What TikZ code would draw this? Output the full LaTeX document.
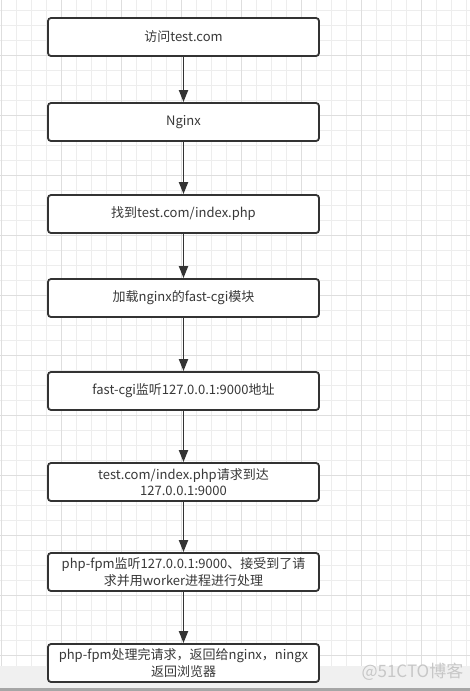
\documentclass[tikz,border=0pt]{standalone}
\usepackage{fontspec}
\setmainfont{Noto Sans CJK SC}
\usetikzlibrary{arrows.meta}

\begin{document}
\begin{tikzpicture}
		[x=1pt, y=-1pt,
			stepbox/.style={draw=black!80, line width=1.8pt, rounded corners=3pt, fill=white,
				minimum width=271pt, minimum height=38pt, inner sep=2pt, align=center,
				text=black!78, font=\fontsize{13}{16.5}\selectfont},
			flow/.style={draw=black!80, line width=1.8pt, -{Triangle[length=12pt, width=9pt]}},
			minorline/.style={draw=black!7, line width=0.8pt},
			majorline/.style={draw=black!13, line width=0.8pt}]
		\useasboundingbox (0,0) rectangle (470,691);
		% background grid
		\fill[white] (0,0) rectangle (470,691);
		\foreach \x in {16,31,...,466} \draw[minorline] (\x,0) -- (\x,666);
		\foreach \y in {10,25,...,655} \draw[minorline] (0,\y) -- (470,\y);
		\foreach \x in {1,61,...,421} \draw[majorline] (\x,0) -- (\x,666);
		\foreach \y in {55,115,...,655} \draw[majorline] (0,\y) -- (470,\y);
		% bottom band with watermark
		\fill[black!6] (0,666) rectangle (470,688);
		\fill[black!35] (0,688) rectangle (470,691);
		\node[anchor=west, text=black!22, font=\fontsize{17}{17}\selectfont] (mark) at (358,672) {@51CTO博客};
		% the steps
		\node[stepbox] (visit) at (183.5,37) {访问test.com};
		\node[stepbox] (nginx) at (183.5,122) {Nginx};
		\node[stepbox] (findphp) at (183.5,214) {找到test.com/index.php};
		\node[stepbox] (loadcgi) at (183.5,298) {加载nginx的fast-cgi模块};
		\node[stepbox] (listen) at (183.5,391) {fast-cgi监听127.0.0.1:9000地址};
		\node[stepbox] (reach) at (183.5,482) {test.com/index.php请求到达\\127.0.0.1:9000};
		\node[stepbox] (fpm) at (183.5,572) {php-fpm监听127.0.0.1:9000、接受到了请\\求并用worker进程进行处理};
		\node[stepbox] (reply) at (183.5,663) {php-fpm处理完请求，返回给nginx，ningx\\返回浏览器};
		% connect the steps
		\draw[flow] (visit) -- (nginx);
		\draw[flow] (nginx) -- (findphp);
		\draw[flow] (findphp) -- (loadcgi);
		\draw[flow] (loadcgi) -- (listen);
		\draw[flow] (listen) -- (reach);
		\draw[flow] (reach) -- (fpm);
		\draw[flow] (fpm) -- (reply);
	\end{tikzpicture}
\end{document}
